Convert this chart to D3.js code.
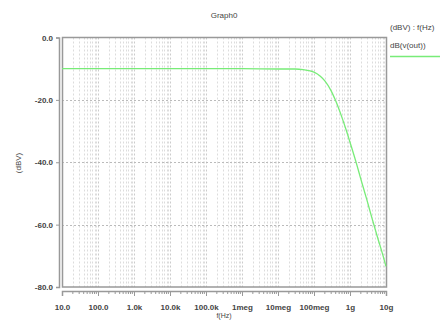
<!DOCTYPE html>
<html><head><meta charset="utf-8">
<script src="https://cdn.jsdelivr.net/npm/d3@7"></script>
<style>body{margin:0;background:#fff}svg{display:block;font-family:"Liberation Sans",Arial,sans-serif}</style>
</head><body><svg id="c" width="440" height="320"></svg>
<script>
const freqs = [10, 1e2, 1e3, 1e4, 1e5, 1e6, 1e7, 3e7, 5e7, 1e8, 1.5e8, 2e8, 3e8, 4e8, 6e8, 8e8, 1e9, 1.5e9, 2e9, 3e9, 4e9, 6e9, 8e9, 1e10];
const dbv   = [-10, -10, -10, -10, -10, -10, -10.1, -10.1, -10.3, -11.1, -12.4, -13.9, -17.1, -20.3, -25.7, -30.0, -33.6, -40.3, -45.4, -52.4, -57.6, -64.6, -69.4, -73.4];
const xTickVals = [10, 1e2, 1e3, 1e4, 1e5, 1e6, 1e7, 1e8, 1e9, 1e10];
const xTickLabels = ["10.0", "100.0", "1.0k", "10.0k", "100.0k", "1meg", "10meg", "100meg", "1g", "10g"];
const yTickVals = [0, -20, -40, -60, -80];
const yTickLabels = ["0.0", "-20.0", "-40.0", "-60.0", "-80.0"];
const title = "Graph0", xTitle = "f(Hz)", yTitle = "(dBV)";
const legendHead = "(dBV) : f(Hz)", seriesName = "dB(v(out))";

const svg = d3.select("#c");
const L = 62, R = 386, T = 37.5, B = 287;
const x = d3.scaleLog().domain([10, 1e10]).range([L, R]);
const y = d3.scaleLinear().domain([-80, 0]).range([B, T]);
const green = "#78ec78", txt = "#444", frame = "#999";

// minor vertical grid
const minor = [];
for (let d = 1; d <= 9; d++) for (let m = 2; m <= 9; m++) minor.push(m * Math.pow(10, d));
svg.append("g").selectAll("line").data(minor).join("line")
  .attr("x1", d => Math.round(x(d)) + 0.5).attr("x2", d => Math.round(x(d)) + 0.5)
  .attr("y1", T).attr("y2", B)
  .attr("stroke", "#dcdcdc").attr("stroke-width", 1).attr("stroke-dasharray", "2,2");
// major vertical grid
svg.append("g").selectAll("line").data(xTickVals.slice(1, -1)).join("line")
  .attr("x1", d => Math.round(x(d)) + 0.5).attr("x2", d => Math.round(x(d)) + 0.5)
  .attr("y1", T).attr("y2", B)
  .attr("stroke", "#cccccc").attr("stroke-width", 1).attr("stroke-dasharray", "2,2");
// horizontal grid
svg.append("g").selectAll("line").data(yTickVals.slice(1, -1)).join("line")
  .attr("x1", L).attr("x2", R)
  .attr("y1", d => Math.round(y(d)) + 0.5).attr("y2", d => Math.round(y(d)) + 0.5)
  .attr("stroke", "#bbb").attr("stroke-width", 1).attr("stroke-dasharray", "2,2");

// frame
svg.append("rect").attr("x", L + 0.5).attr("y", T).attr("width", R - L).attr("height", B - T)
  .attr("fill", "none").attr("stroke", frame).attr("stroke-width", 1.5);

// left axis
const yAxis = d3.axisLeft(y).tickValues(yTickVals).tickFormat((d, i) => yTickLabels[i]).tickSize(3).tickPadding(3);
const gy = svg.append("g").attr("transform", `translate(${L - 3},0)`).call(yAxis);
gy.select(".domain").attr("stroke", frame).attr("stroke-width", 1.5);
gy.selectAll(".tick line").attr("stroke", frame);
gy.selectAll("text").attr("fill", txt).attr("font-size", 8).attr("font-weight", "bold");

// bottom axis
const xAxis = d3.axisBottom(x).tickValues(xTickVals).tickFormat((d, i) => xTickLabels[i]).tickSize(5).tickPadding(8);
const gx = svg.append("g").attr("transform", `translate(0,${B + 4})`).call(xAxis);
gx.select(".domain").attr("stroke", frame).attr("stroke-width", 1.5);
gx.selectAll(".tick line").attr("stroke", frame);
gx.selectAll("text").attr("fill", txt).attr("font-size", 8).attr("font-weight", "bold");
// minor ticks
gx.append("g").selectAll("line").data(minor).join("line")
  .attr("x1", d => x(d)).attr("x2", d => x(d)).attr("y1", 0).attr("y2", 3)
  .attr("stroke", frame);

// titles
svg.append("text").attr("x", 224).attr("y", 18).attr("text-anchor", "middle")
  .attr("font-size", 8).attr("fill", txt).text(title);
svg.append("text").attr("transform", "translate(21,163) rotate(-90)").attr("text-anchor", "middle")
  .attr("font-size", 8).attr("fill", txt).text(yTitle);
svg.append("text").attr("x", 224).attr("y", 318).attr("text-anchor", "middle")
  .attr("font-size", 7).attr("fill", txt).text(xTitle);

// legend
svg.append("text").attr("x", 390).attr("y", 30).attr("font-size", 8).attr("fill", txt).text(legendHead);
svg.append("text").attr("x", 390).attr("y", 48).attr("font-size", 8).attr("fill", txt).text(seriesName);
svg.append("line").attr("x1", 390).attr("x2", 440).attr("y1", 56.5).attr("y2", 56.5)
  .attr("stroke", green).attr("stroke-width", 1.3);

// series
const pts = freqs.map((f, i) => [f, dbv[i]]);
svg.append("path").datum(pts)
  .attr("d", d3.line().x(d => x(d[0])).y(d => y(d[1])).curve(d3.curveMonotoneX))
  .attr("fill", "none").attr("stroke", green).attr("stroke-width", 1.3);
</script></body></html>
